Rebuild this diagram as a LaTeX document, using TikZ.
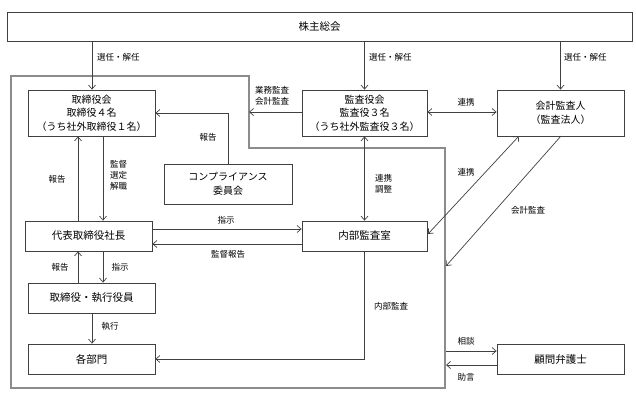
\documentclass[tikz,border=0pt]{standalone}
\usepackage{fontspec}
\setmainfont{Noto Sans CJK JP}
\usetikzlibrary{arrows.meta}
\definecolor{ln}{HTML}{404040}
\begin{document}
\begin{tikzpicture}[x=1pt,y=-1pt,
  box/.style={draw=ln,line width=0.8pt,fill=white,inner sep=0pt,align=center,font=\fontsize{10}{13.5}\selectfont},
  lab/.style={font=\fontsize{8.5}{11}\selectfont,inner sep=1pt,align=center},
  arr/.style={draw=ln,line width=0.7pt,-{Straight Barb[length=4pt,width=7pt]}},
  darr/.style={draw=ln,line width=0.7pt,{Straight Barb[length=4pt,width=7pt]}-{Straight Barb[length=4pt,width=7pt]}},
  border/.style={draw=gray!90,line width=2.8pt}]
\useasboundingbox (0,0) rectangle (636,396);
% company border
\draw[border] (11,76) -- (249,76) -- (249,148) -- (445,148) -- (445,388) -- (11,388) -- cycle;
\coordinate (bT) at (249,112);
\coordinate (bA) at (446,266);
\coordinate (bS) at (446,351);
\coordinate (bJ) at (446,365);
% boxes
\node[box,minimum width=625pt,minimum height=29pt,font=\fontsize{10.5}{12}\selectfont] (sh) at (319.5,26.5) {株主総会};
\node[box,minimum width=127pt,minimum height=46pt] (bd) at (91.5,113) {取締役会\\取締役４名\\（うち社外取締役１名）};
\node[box,minimum width=125pt,minimum height=46pt] (ka) at (364.5,113) {監査役会\\監査役３名\\（うち社外監査役３名）};
\node[box,minimum width=127pt,minimum height=46pt] (ac) at (560.5,113) {会計監査人\\（監査法人）};
\node[box,minimum width=128pt,minimum height=40pt] (cp) at (228,184) {コンプライアンス\\委員会};
\node[box,minimum width=127pt,minimum height=30pt,font=\fontsize{10.5}{12}\selectfont] (ce) at (88.5,236) {代表取締役社長};
\node[box,minimum width=125pt,minimum height=30pt,font=\fontsize{10.5}{12}\selectfont] (ia) at (364.5,236) {内部監査室};
\node[box,minimum width=127pt,minimum height=30pt,font=\fontsize{10.5}{12}\selectfont] (ex) at (91.5,298) {取締役・執行役員};
\node[box,minimum width=127pt,minimum height=30pt,font=\fontsize{10.5}{12}\selectfont] (dp) at (91.5,359) {各部門};
\node[box,minimum width=127pt,minimum height=30pt,font=\fontsize{10.5}{12}\selectfont] (lw) at (560.5,359) {顧問弁護士};
% shareholders arrows
\draw[arr] (sh.south -| 92,0) -- (bd.north -| 92,0);
\node[lab,anchor=west] (l1) at (96,57) {選任・解任};
\draw[arr] (sh.south -| ka.north) -- (ka.north);
\node[lab,anchor=west] (l2) at (368,57) {選任・解任};
\draw[arr] (sh.south -| ac.north) -- (ac.north);
\node[lab,anchor=west] (l3) at (563,57) {選任・解任};
% audit board
\draw[arr] (ka.west |- bT) -- (bT);
\node[lab] (l4) at (272,96) {業務監査\\会計監査};
\draw[darr] (ka.east |- 0,112) -- (ac.west |- 0,112);
\node[lab] (l5) at (466,102) {連携};
% compliance
\draw[arr] (cp.north) -- (cp.north |- 0,113) -- (bd.east |- 0,113);
\node[lab] (l6) at (208,137) {報告};
% board <-> ceo
\draw[arr] (bd.south -| 103,0) -- (ce.north -| 103,0);
\node[lab,anchor=west] (l7) at (109,175) {監督\\選定\\解職};
\draw[arr] (ce.north -| 78,0) -- (bd.south -| 78,0);
\node[lab] (l8) at (57,179) {報告};
% audit board <-> internal audit
\draw[darr] (ka.south) -- (ia.north);
\node[lab,anchor=west] (l9) at (374,184) {連携\\調整};
% ceo <-> internal audit
\draw[arr] (ce.east |- 0,229) -- (ia.west |- 0,229);
\node[lab] (l10) at (226,220) {指示};
\draw[arr] (ia.west |- 0,244) -- (ce.east |- 0,244);
\node[lab] (l11) at (228,254) {監督報告};
% ceo <-> executives
\draw[arr] (ce.south -| 103,0) -- (ex.north -| 103,0);
\node[lab] (l12) at (120,267) {指示};
\draw[arr] (ex.north -| 78,0) -- (ce.south -| 78,0);
\node[lab] (l13) at (60,267) {報告};
% executives -> departments
\draw[arr] (ex.south -| 92,0) -- (dp.north -| 92,0);
\node[lab] (l14) at (110,326) {執行};
% internal audit -> departments
\draw[arr] (ia.south) -- (ia.south |- dp.east) -- (dp.east);
\node[lab] (l15) at (391,306) {内部監査};
% accounting auditor
\draw[darr] (519,136) -- (428,234);
\node[lab] (l16) at (466,172) {連携};
\draw[arr] (561,136) -- (bA);
\node[lab] (l17) at (528,210) {会計監査};
% lawyer
\draw[arr] (bS) -- (lw.west |- bS);
\node[lab] (l18) at (466,341) {相談};
\draw[arr] (lw.west |- bJ) -- (bJ);
\node[lab] (l19) at (466,377) {助言};
\end{tikzpicture}
\end{document}
